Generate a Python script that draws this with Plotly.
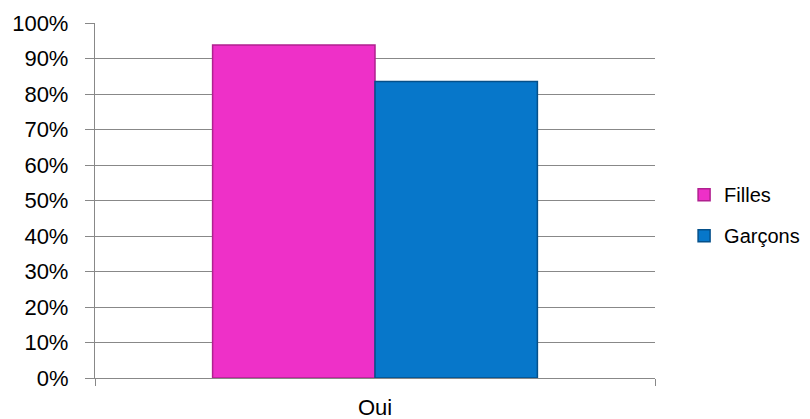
import plotly.graph_objects as go

categories = ["Oui"]
filles = [0.938]
garcons = [0.835]
series_names = ["Filles", "Garçons"]
tick_vals = [0, 0.1, 0.2, 0.3, 0.4, 0.5, 0.6, 0.7, 0.8, 0.9, 1.0]
tick_text = ["0%", "10%", "20%", "30%", "40%", "50%", "60%", "70%", "80%", "90%", "100%"]

fig = go.Figure()
fig.add_trace(go.Bar(x=categories, y=filles, name=series_names[0], legendgroup="a",
                     marker=dict(color="#EE30C8", line=dict(color="#B0208F", width=1.5))))
fig.add_trace(go.Bar(x=categories, y=garcons, name=series_names[1], legendgroup="b",
                     marker=dict(color="#0777CA", line=dict(color="#05508A", width=1.5))))

fig.update_layout(
    width=802, height=411,
    margin=dict(l=87, r=155, t=15, b=41, autoexpand=False),
    paper_bgcolor="white", plot_bgcolor="white",
    barmode="group", bargap=0.42, bargroupgap=0,
    font=dict(family="Liberation Sans, Arial, sans-serif", size=22, color="black"),
    showlegend=True,
    legend=dict(x=0.843, y=0.496, xref="container", yref="container",
                xanchor="left", yanchor="middle",
                font=dict(size=20), tracegroupgap=12, itemwidth=30,
                bgcolor="rgba(0,0,0,0)"),
)
fig.update_yaxes(range=[0, 1.0], tickvals=tick_vals, ticktext=tick_text,
                 showgrid=True, gridcolor="#888888", gridwidth=1.3,
                 showline=True, linecolor="#888888", linewidth=1.3,
                 ticks="outside", ticklen=9, tickcolor="#888888",
                 ticklabelstandoff=12, automargin=False,
                 tickfont=dict(size=22), zeroline=False)
fig.update_xaxes(showline=True, linecolor="#888888", linewidth=1.3,
                 ticks="outside", ticklen=7, tickcolor="#888888", tickson="boundaries",
                 automargin=False, ticklabelstandoff=9,
                 tickfont=dict(size=22), showgrid=False)

fig.write_html("out.html")
